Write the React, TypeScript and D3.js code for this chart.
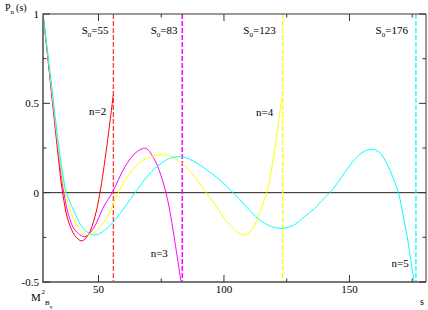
import * as d3 from "d3";
import React from "react";

type Pt = [number, number];

// s, P_n(s)
const curveN2: Pt[] = [
  [27.9, 1], [30, 0.73], [32, 0.46], [34, 0.2], [35.7, 0], [38, -0.16], [40.6, -0.24],
  [43.3, -0.27], [45.9, -0.237], [48.6, -0.134], [50.6, 0], [53.3, 0.257], [55.9, 0.547],
];
const curveN3: Pt[] = [
  [27.9, 1], [30, 0.74], [32, 0.48], [34, 0.23], [36.2, 0], [38, -0.12], [40.6, -0.209],
  [44.6, -0.246], [48, -0.2], [52, -0.08], [55.5, 0], [60.6, 0.146], [65, 0.225],
  [68.8, 0.248], [72.5, 0.18], [75.5, 0.07], [78, -0.07], [80.5, -0.28], [82.9, -0.5],
];
const curveN4: Pt[] = [
  [27.9, 1], [30, 0.75], [32, 0.5], [34, 0.25], [36.7, 0], [38.5, -0.09], [40.6, -0.16],
  [43.5, -0.22], [46.6, -0.237], [50, -0.2], [53.9, -0.125], [57.9, 0], [62, 0.1],
  [67, 0.175], [72, 0.205], [77.2, 0.211], [82, 0.18], [87, 0.11], [93, 0], [98, -0.1],
  [103, -0.19], [107.7, -0.237], [111, -0.21], [114, -0.12], [117, 0], [120, 0.22], [123, 0.528],
];
const curveN5: Pt[] = [
  [27.9, 1], [30, 0.76], [32, 0.52], [34, 0.28], [35.6, 0.12], [37.2, 0], [39, -0.065],
  [40.6, -0.115], [42.5, -0.17], [45, -0.215], [48.6, -0.237], [52.5, -0.21], [56.6, -0.153],
  [60.5, -0.08], [64.6, 0], [70, 0.1], [75, 0.165], [79, 0.195], [83.5, 0.2], [88, 0.175],
  [93, 0.13], [98, 0.075], [103.7, 0], [109, -0.08], [114, -0.15], [119, -0.19],
  [123.6, -0.2], [128, -0.18], [132, -0.135], [136, -0.09], [139, -0.045], [142.2, 0],
  [145, 0.05], [148.5, 0.12], [152, 0.185], [155.5, 0.228], [158.9, 0.243], [162, 0.225],
  [165, 0.16], [167.5, 0.08], [169.5, 0], [171.3, -0.12], [173, -0.246], [175.7, -0.5],
];

const curves = [curveN2, curveN3, curveN4, curveN5];
const curveColors = ["#ff0000", "#ff00ff", "#ffff00", "#00ffff"];
const curveNames = ["n=2", "n=3", "n=4", "n=5"];
const nameAt: Pt[] = [[46.2, 0.435], [70.8, -0.36], [112.8, 0.43], [166.8, -0.414]];

const s0Pos = [55.9, 83.4, 123.4, 176.5];
const s0Labels = ["55", "83", "123", "176"];
const s0LabelAt = [43.3, 70.8, 107.7, 160.4];
const dashWidths = [1, 1.5, 1.3, 1.3];

const xMajor = [50, 100, 150];
const xMinor = [75, 125, 175];
const yMajor = [1, 0.5, 0, -0.5];
const yMinor = [0.75, 0.25, -0.25];
const mB2 = 27.9;

export default function App() {
  const width = 428;
  const height = 310;
  const left = 43, right = 426, top = 14, bottom = 282;
  const x = d3.scaleLinear([mB2, 180.5], [left, right]);
  const y = d3.scaleLinear([-0.5, 1], [bottom, top]);
  const line = d3
    .line<Pt>()
    .x((d) => x(d[0]))
    .y((d) => y(d[1]))
    .curve(d3.curveCatmullRom.alpha(0.5));
  const font = "'Liberation Serif', Tinos, 'Times New Roman', Times, 'DejaVu Serif', serif";

  return (
    <svg
      width={width}
      height={height}
      style={{ position: "absolute", left: 0, top: 0, background: "#fff" }}
    >
      {/* zero line */}
      <line x1={left} x2={right} y1={y(0)} y2={y(0)} stroke="#222" strokeWidth={1} />

      {/* s0 dashed lines */}
      {s0Pos.map((s, i) => (
        <line
          key={"d" + i}
          x1={x(s)}
          x2={x(s)}
          y1={top}
          y2={bottom}
          stroke={curveColors[i]}
          strokeWidth={dashWidths[i]}
          strokeDasharray="5,2"
        />
      ))}

      {/* curves */}
      {curves.map((c, i) => (
        <path key={"c" + i} d={line(c) ?? ""} fill="none" stroke={curveColors[i]} strokeWidth={1} />
      ))}

      {/* frame */}
      <line x1={left} x2={right} y1={top} y2={top} stroke="#333" strokeWidth={1} />
      <line x1={right} x2={right} y1={top} y2={bottom} stroke="#333" strokeWidth={1} />
      <line x1={left} x2={left} y1={top - 0.5} y2={bottom + 1} stroke="#777" strokeWidth={2} />
      <line x1={left} x2={right} y1={bottom} y2={bottom} stroke="#777" strokeWidth={2} />

      {/* x ticks */}
      {xMajor.concat(xMinor).map((v) => {
        const len = xMajor.includes(v) ? 7 : 3.5;
        return (
          <g key={"xt" + v}>
            <line x1={x(v)} x2={x(v)} y1={bottom} y2={bottom - len} stroke="#333" />
            <line x1={x(v)} x2={x(v)} y1={top} y2={top + len} stroke="#333" />
          </g>
        );
      })}
      {/* y ticks */}
      {yMajor.concat(yMinor).map((v) => {
        const len = yMajor.includes(v) ? 7 : 3.5;
        return (
          <g key={"yt" + v}>
            <line x1={left} x2={left + len} y1={y(v)} y2={y(v)} stroke="#333" />
            <line x1={right} x2={right - len} y1={y(v)} y2={y(v)} stroke="#333" />
          </g>
        );
      })}

      <g style={{ fontFamily: font }} fill="#000">
        {/* tick labels */}
        {xMajor.map((v) => (
          <text key={"xl" + v} x={x(v)} y={bottom + 11} textAnchor="middle" fontSize={11}>
            {v}
          </text>
        ))}
        {yMajor.map((v) => (
          <text key={"yl" + v} x={left - 4} y={y(v) + 4} textAnchor="end" fontSize={11}>
            {v}
          </text>
        ))}

        {/* axis titles */}
        <text x={5} y={11} fontSize={10}>
          P
          <tspan fontSize={7} dy={3}>n</tspan>
          <tspan dy={-3} dx={2}>(s)</tspan>
        </text>
        <text x={31} y={301} fontSize={11}>M</text>
        <text x={41.5} y={294} fontSize={7}>2</text>
        <text x={45} y={305} fontSize={7}>B</text>
        <text x={49.5} y={308} fontSize={5}>q</text>
        <text x={420} y={305} fontSize={10}>s</text>

        {/* s0 labels */}
        {s0Labels.map((lab, i) => (
          <text key={"sl" + i} x={x(s0LabelAt[i])} y={34} fontSize={11}>
            S
            <tspan fontSize={7} dy={3}>0</tspan>
            <tspan dy={-3}>={lab}</tspan>
          </text>
        ))}

        {/* n labels */}
        {curveNames.map((nm, i) => (
          <text key={"n" + i} x={x(nameAt[i][0])} y={y(nameAt[i][1])} fontSize={11}>
            {nm}
          </text>
        ))}
      </g>
    </svg>
  );
}
